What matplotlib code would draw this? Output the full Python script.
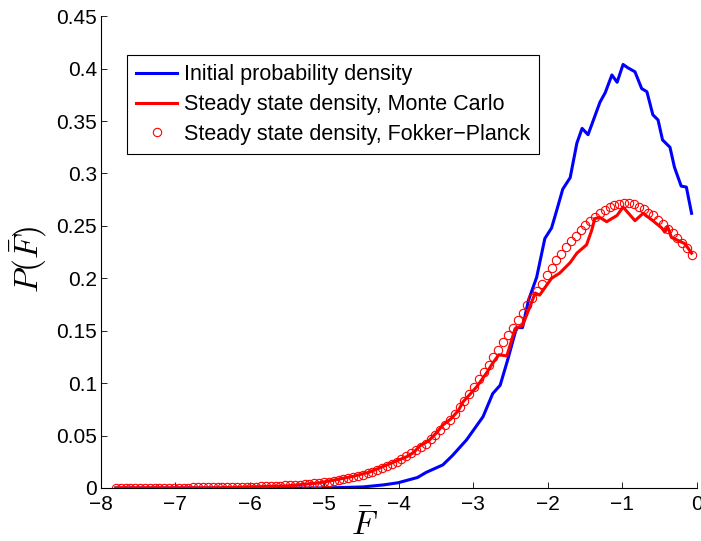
import numpy as np
import matplotlib
from matplotlib import pyplot as plt
matplotlib.rcParams['font.size'] = 15
matplotlib.rcParams['font.family'] = ['Liberation Sans', 'DejaVu Sans']
matplotlib.rcParams['mathtext.fontset'] = 'cm'

# initial density (histogram of the starting ensemble)
init_x = [-7.8, -5.0, -4.48, -4.2, -4.01, -3.75, -3.63, -3.41, -3.28, -3.09,
          -2.87, -2.74, -2.64, -2.54, -2.42, -2.34, -2.26, -2.15, -2.04, -1.95,
          -1.88, -1.80, -1.70, -1.61, -1.54, -1.46, -1.30, -1.23, -1.14, -1.07,
          -0.99, -0.93, -0.83, -0.74, -0.67, -0.59, -0.52, -0.46, -0.36, -0.30,
          -0.21, -0.14, -0.07]
init_p = [0.0, 0.0, 0.001, 0.003, 0.005, 0.010, 0.015, 0.022, 0.031, 0.046,
          0.068, 0.090, 0.098, 0.122, 0.153, 0.153, 0.179, 0.201, 0.238, 0.248,
          0.265, 0.285, 0.296, 0.329, 0.343, 0.337, 0.368, 0.377, 0.394, 0.387,
          0.404, 0.401, 0.397, 0.381, 0.378, 0.356, 0.351, 0.332, 0.325, 0.306,
          0.288, 0.287, 0.262]

# steady state from Monte Carlo runs
mc_x = [-7.8, -6.5, -6.0, -5.5, -5.06, -4.62, -4.4, -4.16, -3.89, -3.8,
        -3.72, -3.6, -3.49, -3.41, -3.3, -3.2, -3.14, -3.05, -2.95, -2.82,
        -2.75, -2.66, -2.55, -2.44, -2.34, -2.24, -2.17, -2.11, -2.04, -1.95,
        -1.84, -1.70, -1.61, -1.48, -1.41, -1.37, -1.30, -1.21, -1.07, -0.99,
        -0.83, -0.72, -0.59, -0.47, -0.43, -0.39, -0.34, -0.25, -0.16, -0.07]
mc_p = [0.0, 0.0, 0.001, 0.002, 0.005, 0.011, 0.015, 0.022, 0.030, 0.034,
        0.040, 0.045, 0.053, 0.060, 0.066, 0.074, 0.082, 0.089, 0.097, 0.110,
        0.118, 0.127, 0.126, 0.152, 0.155, 0.173, 0.186, 0.184, 0.191, 0.200,
        0.205, 0.215, 0.224, 0.232, 0.246, 0.257, 0.258, 0.254, 0.260, 0.268,
        0.255, 0.262, 0.255, 0.248, 0.244, 0.249, 0.239, 0.236, 0.233, 0.224]

# steady state from the Fokker-Planck solution, on its own grid
fp_x = np.linspace(-7.8, -0.065, 120)
fp_p = [0.0002, 0.0002, 0.0002, 0.0002, 0.0002, 0.0002, 0.0002, 0.0003, 0.0003, 0.0003,
        0.0003, 0.0003, 0.0003, 0.0004, 0.0004, 0.0004, 0.0005, 0.0005, 0.0005, 0.0006,
        0.0006, 0.0007, 0.0007, 0.0008, 0.0009, 0.0010, 0.0011, 0.0012, 0.0013, 0.0014,
        0.0015, 0.0016, 0.0018, 0.0019, 0.0021, 0.0024, 0.0026, 0.0029, 0.0032, 0.0036,
        0.0040, 0.0044, 0.0049, 0.0055, 0.0061, 0.0068, 0.0076, 0.0085, 0.0094, 0.0104,
        0.0115, 0.0127, 0.0141, 0.0156, 0.0172, 0.0190, 0.0209, 0.0230, 0.0252, 0.0276,
        0.0305, 0.0330, 0.0358, 0.0389, 0.0424, 0.0463, 0.0505, 0.0550, 0.0600, 0.0653,
        0.0710, 0.0770, 0.0833, 0.0898, 0.0966, 0.1035, 0.1105, 0.1175, 0.1246, 0.1317,
        0.1388, 0.1459, 0.1530, 0.1601, 0.1672, 0.1742, 0.1811, 0.1879, 0.1945, 0.2035,
        0.2103, 0.2170, 0.2236, 0.2300, 0.2356, 0.2408, 0.2458, 0.2505, 0.2545, 0.2582,
        0.2625, 0.2655, 0.2680, 0.2700, 0.2712, 0.2718, 0.2715, 0.2705, 0.2685, 0.2660,
        0.2625, 0.2600, 0.2555, 0.2515, 0.2470, 0.2430, 0.2385, 0.2340, 0.2290, 0.2225]

xticks = [-8, -7, -6, -5, -4, -3, -2, -1, 0]
yticks = [0, 0.05, 0.1, 0.15, 0.2, 0.25, 0.3, 0.35, 0.4, 0.45]
ytick_labels = ['0', '0.05', '0.1', '0.15', '0.2', '0.25', '0.3', '0.35', '0.4', '0.45']

fig = plt.figure(figsize=(7.01, 5.41), dpi=100)
ax = fig.add_axes([0.144, 0.098, 0.850, 0.872])

ax.plot(init_x, init_p, '-', color='#0000ff', lw=2.2, label='Initial probability density')
ax.plot(mc_x, mc_p, '-', color='#ff0000', lw=2.2, label='Steady state density, Monte Carlo')
ax.plot(fp_x, fp_p, 'o', mfc='none', mec='#ff0000', ms=6, mew=0.8,
        label='Steady state density, Fokker\u2212Planck')

ax.set_xlim(-8, 0)
ax.set_ylim(0, 0.45)
ax.set_xticks(xticks)
ax.set_xticklabels(['\u2212%d' % -t if t < 0 else '0' for t in xticks])
ax.set_yticks(yticks)
ax.set_yticklabels(ytick_labels)
# box off: only the left and bottom axes are drawn
ax.spines['top'].set_visible(False)
ax.spines['right'].set_visible(False)
ax.tick_params(axis='both', direction='in', length=4.5, width=0.6)
ax.tick_params(axis='x', pad=5)
ax.tick_params(axis='y', pad=3)
for s in ax.spines.values():
    s.set_linewidth(0.8)

ax.set_xlabel(r'$\bar{F}$', fontsize=24)
ax.xaxis.set_label_coords(0.443, -0.045)
ax.set_ylabel(r'$P(\bar{F})$', fontsize=24)
ax.yaxis.set_label_coords(-0.088, 0.485)

leg = ax.legend(loc='upper left', bbox_to_anchor=(0.044, 0.917), borderaxespad=0,
                frameon=True, fancybox=False, edgecolor='black', framealpha=1,
                prop={'size': 15.5}, handlelength=1.9, handletextpad=0.3,
                labelspacing=0.4, borderpad=0.42)
leg.get_frame().set_linewidth(0.8)

fig.savefig('out.png', dpi=100)
